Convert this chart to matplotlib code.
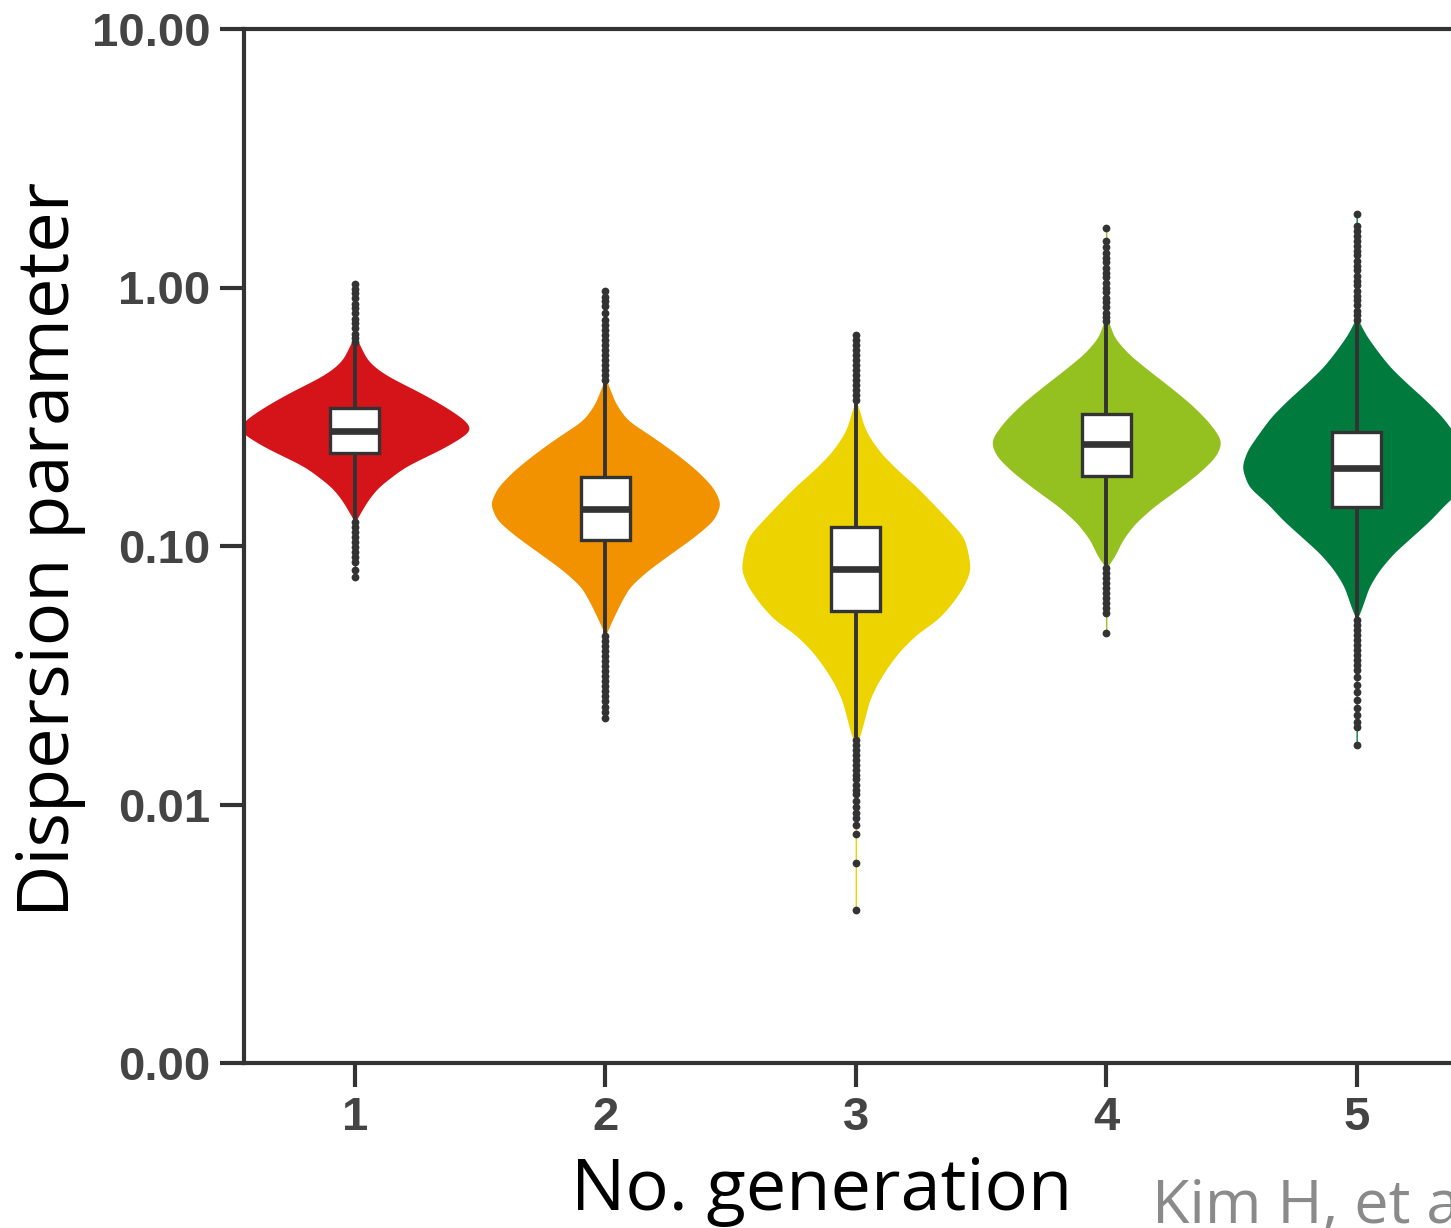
import numpy as np
import matplotlib
matplotlib.use("Agg")
import matplotlib.pyplot as plt

# ---------------------------------------------------------------- data
generations = [1, 2, 3, 4, 5]
tick_labels = ["1", "2", "3", "4", "5"]
colors = ["#D51419", "#F29200", "#EDD300", "#94C11F", "#017B3D"]

# box-plot statistics, log10 of the dispersion parameter
q1_log = [-0.641, -0.977, -1.251, -0.730, -0.849]
median_log = [-0.554, -0.855, -1.088, -0.606, -0.699]
q3_log = [-0.467, -0.734, -0.927, -0.490, -0.560]
whisk_lo_log = [-0.900, -1.340, -1.737, -1.073, -1.278]
whisk_hi_log = [-0.212, -0.367, -0.440, -0.131, -0.124]
min_log = [-1.120, -1.664, -2.409, -1.336, -1.768]
max_log = [0.015, -0.012, -0.185, 0.232, 0.286]

# kernel-density profiles: log10 grid and relative half-width (1 = widest)
dens_log = [
    [-0.193, -0.282, -0.320, -0.346, -0.410, -0.462, -0.514, -0.552,
     -0.617, -0.694, -0.771, -0.822, -0.900],
    [-0.359, -0.449, -0.514, -0.578, -0.642, -0.707, -0.771, -0.835,
     -0.900, -0.964, -1.028, -1.093, -1.157, -1.221, -1.286, -1.337],
    [-0.449, -0.539, -0.578, -0.642, -0.707, -0.771, -0.835, -0.900,
     -0.964, -1.028, -1.093, -1.157, -1.221, -1.286, -1.337, -1.402,
     -1.466, -1.530, -1.595, -1.659, -1.723, -1.762],
    [-0.115, -0.192, -0.256, -0.320, -0.385, -0.449, -0.514, -0.578,
     -0.604, -0.655, -0.719, -0.784, -0.848, -0.912, -0.977, -1.041, -1.073],
    [-0.127, -0.179, -0.243, -0.308, -0.372, -0.436, -0.501, -0.565,
     -0.629, -0.694, -0.771, -0.835, -0.900, -0.964, -1.028, -1.093,
     -1.157, -1.221, -1.273],
]
dens_rel = [
    [0.01, 0.105, 0.20, 0.29, 0.57, 0.77, 0.94, 1.00, 0.77, 0.42, 0.20, 0.11, 0.01],
    [0.01, 0.088, 0.19, 0.41, 0.61, 0.79, 0.93, 1.00, 0.94, 0.77, 0.57, 0.37,
     0.21, 0.13, 0.06, 0.01],
    [0.015, 0.073, 0.117, 0.22, 0.366, 0.53, 0.67, 0.81, 0.94, 0.98, 1.00,
     0.94, 0.84, 0.71, 0.54, 0.39, 0.28, 0.19, 0.12, 0.082, 0.044, 0.015],
    [0.01, 0.066, 0.19, 0.366, 0.555, 0.73, 0.877, 0.985, 1.00, 0.95, 0.80,
     0.61, 0.41, 0.25, 0.14, 0.073, 0.024],
    [0.018, 0.073, 0.175, 0.29, 0.44, 0.60, 0.745, 0.85, 0.95, 1.00, 0.94,
     0.775, 0.64, 0.48, 0.32, 0.196, 0.108, 0.059, 0.018],
]

# outlying estimates beyond the whiskers, log10
outliers_log = [
    [0.015, -0.004, -0.023, -0.042, -0.062, -0.081, -0.100, -0.120, -0.139,
     -0.158, -0.178, -0.197, -0.212,
     -0.907, -0.927, -0.946, -0.965, -0.985, -1.004, -1.023, -1.042, -1.062,
     -1.093, -1.120],
    [-0.012, -0.035, -0.054, -0.073, -0.100, -0.127, -0.147, -0.166, -0.185,
     -0.205, -0.224, -0.243, -0.263, -0.282, -0.301, -0.320, -0.340, -0.359,
     -1.347, -1.367, -1.386, -1.405, -1.425, -1.444, -1.463, -1.483, -1.502,
     -1.521, -1.541, -1.560, -1.579, -1.598, -1.622, -1.641, -1.664],
    [-0.185, -0.205, -0.224, -0.243, -0.263, -0.282, -0.301, -0.320, -0.340,
     -0.359, -0.378, -0.398, -0.417, -0.436,
     -1.749, -1.768, -1.788, -1.807, -1.826, -1.846, -1.865, -1.884, -1.903,
     -1.923, -1.942, -1.961, -1.985, -2.008, -2.031, -2.054, -2.081, -2.116,
     -2.228, -2.409],
    [0.232, 0.181, 0.158, 0.135, 0.116, 0.097, 0.077, 0.058, 0.039, 0.019,
     0.000, -0.019, -0.039, -0.058, -0.077, -0.097, -0.116, -0.131,
     -1.085, -1.104, -1.124, -1.143, -1.162, -1.181, -1.201, -1.220, -1.239,
     -1.259, -1.336],
    [0.286, 0.239, 0.220, 0.201, 0.181, 0.162, 0.143, 0.124, 0.104, 0.085,
     0.066, 0.046, 0.027, 0.008, -0.012, -0.031, -0.050, -0.069, -0.089,
     -0.108, -0.124,
     -1.286, -1.305, -1.324, -1.344, -1.363, -1.382, -1.402, -1.421, -1.440,
     -1.459, -1.479, -1.506, -1.537, -1.564, -1.595, -1.625, -1.653, -1.680,
     -1.699, -1.768],
]

y_ticks = [0.001, 0.01, 0.1, 1.0, 10.0]
y_tick_labels = ["0.00", "0.01", "0.10", "1.00", "10.00"]

# ---------------------------------------------------------------- figure
W, H = 1451, 1228
fig = plt.figure(figsize=(W / 100, H / 100), dpi=100)
fig.patch.set_facecolor("white")

axis_col = "#333333"
half_width = 0.455
box_w = 0.196
tail_w = 0.006
smooth_sigma = 0.018   # log10 units


def smooth_profile(grid, w, sigma):
    """Gaussian smoothing of a sampled half-width profile."""
    step = grid[1] - grid[0]
    n = int(4 * sigma / step)
    x = np.arange(-n, n + 1) * step
    k = np.exp(-0.5 * (x / sigma) ** 2)
    k /= k.sum()
    return np.convolve(np.pad(w, n, mode="constant"), k, mode="valid")


ax = fig.add_axes([244 / W, 1 - 1063 / H, 1313 / W, (1063 - 29) / H])
ax.set_yscale("log")
ax.set_ylim(0.001, 10)
ax.set_xlim(0.557, 5.8)

for i, g in enumerate(generations):
    lo, hi = min_log[i], max_log[i]
    yl = np.array(dens_log[i])
    wr = np.array(dens_rel[i])
    order = np.argsort(yl)
    yl, wr = yl[order], wr[order]
    grid = np.linspace(lo, hi, 1500)
    w = np.interp(grid, yl, wr, left=0.0, right=0.0)
    w = smooth_profile(grid, w, smooth_sigma)
    w = w / w.max()
    w = np.maximum(w, tail_w)
    ax.fill_betweenx(10 ** grid, g - w * half_width, g + w * half_width,
                     color=colors[i], lw=0, zorder=1)

    # whiskers
    ax.plot([g, g], [10 ** whisk_lo_log[i], 10 ** q1_log[i]],
            color=axis_col, lw=2.8, solid_capstyle="butt", zorder=2)
    ax.plot([g, g], [10 ** q3_log[i], 10 ** whisk_hi_log[i]],
            color=axis_col, lw=2.8, solid_capstyle="butt", zorder=2)
    # outliers
    ol = 10 ** np.array(outliers_log[i])
    ax.plot(np.full(ol.shape, g), ol, "o", ms=5.6, color=axis_col,
            mec="none", zorder=3)
    # box
    q1v, q3v = 10 ** q1_log[i], 10 ** q3_log[i]
    ax.add_patch(plt.Rectangle((g - box_w / 2, q1v), box_w, q3v - q1v,
                               facecolor="white", edgecolor=axis_col,
                               lw=2.4, zorder=4))
    ax.plot([g - box_w / 2, g + box_w / 2], [10 ** median_log[i]] * 2,
            color=axis_col, lw=4.8, solid_capstyle="butt", zorder=5)

for s in ["left", "bottom", "top", "right"]:
    ax.spines[s].set_color(axis_col)
    ax.spines[s].set_linewidth(3)

ax.set_yticks(y_ticks)
ax.set_yticklabels(y_tick_labels)
ax.yaxis.set_minor_locator(matplotlib.ticker.NullLocator())
ax.set_xticks(generations)
ax.set_xticklabels(tick_labels)
ax.tick_params(axis="both", which="major", length=17, width=3,
               color=axis_col, labelcolor="#444444", pad=7)
for lab in ax.get_xticklabels() + ax.get_yticklabels():
    lab.set_fontfamily("Liberation Sans")
    lab.set_fontweight("bold")
    lab.set_fontsize(34)

fig.text(50 / W, 1 - 549 / H, "Dispersion parameter", rotation=90,
         ha="center", va="center", fontsize=52, family="Open Sans",
         color="black")
fig.text(822 / W, 1 - 1210 / H, "No. generation", ha="center",
         va="baseline", fontsize=52, family="Open Sans", color="black")
fig.text(1152 / W, 1 - 1223 / H, "Kim H, et al.", ha="left",
         va="baseline", fontsize=44, family="Open Sans", color="#8a8a8a")

fig.savefig("out.png", dpi=100, facecolor="white")
